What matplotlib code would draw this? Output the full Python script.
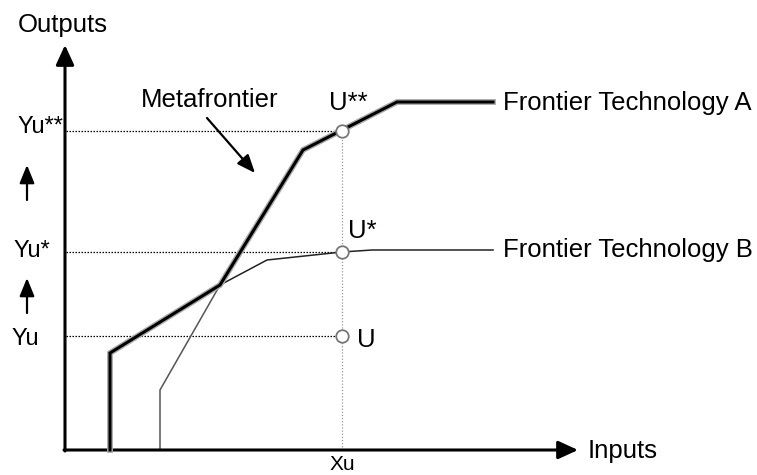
import matplotlib.pyplot as plt

plt.rcParams['font.family'] = ['Liberation Sans', 'DejaVu Sans']

# schematic values (input, output units)
xu = 277
yu_levels = [114, 198, 319]
yu_labels = ["Yu", "Yu*", "Yu**"]
u_labels = ["U", "U*", "U**"]

tech_a_x = [95, 95, 155, 238, 332, 428]
tech_a_y = [0, 60, 165, 300, 348, 348]

tech_b_x = [45, 45, 155, 202, 277, 307, 428]
tech_b_y = [0, 97, 165, 190, 198, 200, 200]

meta_x = [45, 45, 155, 238, 332, 428]
meta_y = [0, 97, 165, 300, 348, 348]

fig = plt.figure(figsize=(7.57, 4.75), dpi=100, facecolor='white')
ax = fig.add_axes([0, 0, 1, 1])
ax.set_xlim(-65, 692)
ax.set_ylim(-25, 450)
ax.axis('off')

fs = 18.5
fs_small = 17

axis_arrow = dict(arrowstyle="-|>,head_length=1.2,head_width=0.55", lw=2.2,
                  color='black', shrinkA=0, shrinkB=0)
ax.annotate("", xy=(0, 405), xytext=(0, -1), arrowprops=axis_arrow)
ax.annotate("", xy=(513, 0), xytext=(-1, 0), arrowprops=axis_arrow)
ax.text(-2, 418, "Outputs", fontsize=fs, ha='center', va='baseline')
ax.text(523, -8, "Inputs", fontsize=fs, ha='left', va='baseline')

# reference lines
for y in yu_levels:
    ax.plot([1, xu], [y, y], color='black', lw=0.9, linestyle=(0, (1.2, 1.2)), zorder=1)
ax.plot([xu, xu], [0, yu_levels[2]], color='#999999', lw=0.9, linestyle=(0, (1, 1.5)), zorder=1)

# frontiers
ax.plot(tech_a_x, tech_a_y, color='#555555', lw=1.1, zorder=2)
ax.plot(tech_b_x, tech_b_y, color='#222222', lw=1.1, zorder=2)
ax.plot(meta_x, meta_y, color='#aaaaaa', lw=4.2, solid_joinstyle='miter', zorder=3)
ax.plot(meta_x, meta_y, color='black', lw=2.2, solid_joinstyle='miter', zorder=4)

# points
ax.plot([xu] * 3, yu_levels, 'o', ms=9, mfc='white', mec='#777777', mew=1.3, zorder=5)

ax.text(xu + 6, 340, u_labels[2], fontsize=fs, ha='center', va='baseline')
ax.text(xu + 20, 212, u_labels[1], fontsize=fs, ha='center', va='baseline')
ax.text(xu + 15, 103, u_labels[0], fontsize=fs, ha='left', va='baseline')

ax.text(-48, 317, yu_labels[2], fontsize=fs_small, ha='left', va='baseline')
ax.text(-51, 193, yu_labels[1], fontsize=fs_small, ha='left', va='baseline')
ax.text(-54, 105, yu_labels[0], fontsize=fs_small, ha='left', va='baseline')

# small up arrows between levels
for y0, y1 in [(137, 172), (250, 285)]:
    ax.annotate("", xy=(-38, y1), xytext=(-38, y0),
                arrowprops=dict(arrowstyle="-|>,head_length=1.1,head_width=0.45", lw=1.6,
                                color='black', shrinkA=0, shrinkB=0))

ax.text(438, 340, "Frontier Technology A", fontsize=fs, ha='left', va='baseline')
ax.text(438, 193, "Frontier Technology B", fontsize=fs, ha='left', va='baseline')

ax.text(145, 343, "Metafrontier", fontsize=fs, ha='center', va='baseline')
ax.annotate("", xy=(190, 277), xytext=(142, 332),
            arrowprops=dict(arrowstyle="-|>,head_length=1.1,head_width=0.45", lw=1.6,
                            color='black', shrinkA=0, shrinkB=0))

ax.text(xu, -19.5, "Xu", fontsize=15, ha='center', va='baseline')

fig.savefig("out.png", dpi=100, facecolor='white')
